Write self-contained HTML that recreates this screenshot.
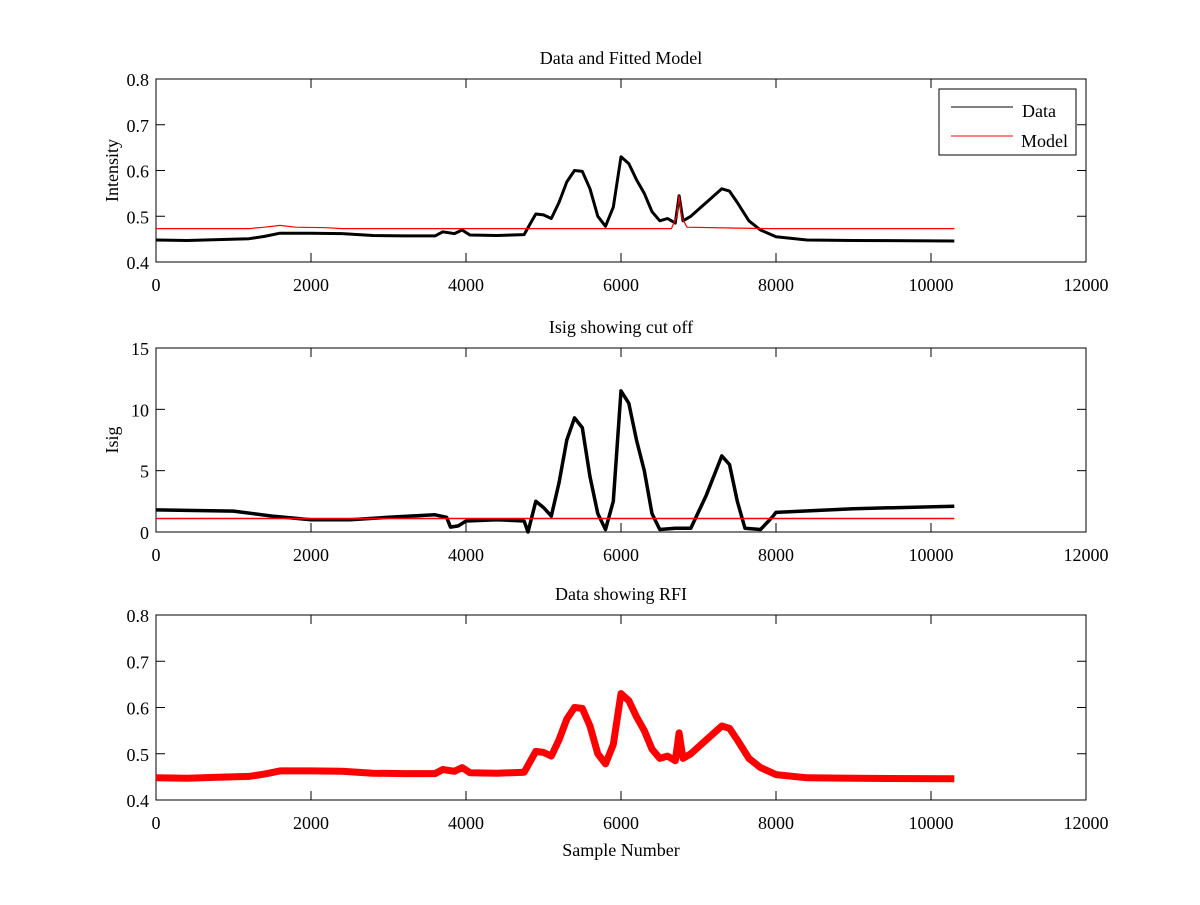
<!DOCTYPE html>
<html><head><meta charset="utf-8"><style>
body{margin:0;background:#fff;}
svg text{font-family:"Liberation Serif",serif;font-size:18px;fill:#000;}
</style></head><body>
<svg id="fig" width="1200" height="900" viewBox="0 0 1200 900" xmlns="http://www.w3.org/2000/svg">
<rect width="1200" height="900" fill="#fff"/>
</svg>
<script>
const sampleX=[0,400,800,1200,1400,1600,2000,2400,2800,3200,3600,3700,3850,3950,4050,4400,4750,4850,4900,5000,5100,5200,5300,5400,5500,5600,5700,5800,5900,6000,6100,6200,6300,6400,6500,6600,6700,6750,6800,6900,7100,7300,7400,7500,7650,7800,8000,8400,9000,10300];
const intensity=[0.448,0.447,0.449,0.451,0.456,0.463,0.463,0.462,0.458,0.457,0.457,0.466,0.462,0.470,0.459,0.458,0.460,0.490,0.505,0.503,0.495,0.530,0.575,0.600,0.598,0.560,0.500,0.478,0.520,0.630,0.615,0.580,0.550,0.510,0.490,0.495,0.485,0.545,0.490,0.500,0.530,0.560,0.555,0.530,0.490,0.470,0.455,0.448,0.447,0.446];
const modelX=[0,1200,1400,1600,1800,2200,2400,6650,6720,6750,6780,6850,7500,7900,10300];
const modelY=[0.473,0.473,0.476,0.480,0.476,0.475,0.473,0.473,0.500,0.545,0.500,0.476,0.474,0.473,0.473];
const isigX=[0,1000,1500,2000,2500,3000,3600,3750,3800,3900,4000,4400,4750,4800,4900,5000,5100,5200,5300,5400,5500,5600,5700,5800,5900,6000,6100,6200,6300,6400,6500,6700,6900,7100,7300,7400,7500,7600,7800,7950,8000,9000,10300];
const isig=[1.8,1.7,1.3,1.0,1.0,1.2,1.4,1.2,0.4,0.5,0.9,1.0,0.9,0.0,2.5,2.0,1.3,4.0,7.5,9.3,8.5,4.5,1.5,0.2,2.5,11.5,10.5,7.5,5.0,1.5,0.2,0.3,0.3,3.0,6.2,5.5,2.5,0.3,0.2,1.2,1.6,1.9,2.1];
const cutoff=[1.1,1.1];
const cutoffX=[0,10300];
const xTicks=[0,2000,4000,6000,8000,10000,12000];
const yTicks1=[0.4,0.5,0.6,0.7,0.8];
const yTicks2=[0,5,10,15];

const NS="http://www.w3.org/2000/svg";
const svg=document.getElementById('fig');
const X0=156,X1=1086;
function mk(tag,attrs,parent){const e=document.createElementNS(NS,tag);for(const k in attrs)e.setAttribute(k,attrs[k]);(parent||svg).appendChild(e);return e;}
function sx(v){return X0+(v-0)/(12000)*(X1-X0);}

const panels=[
 {top:79,bot:262,ymin:0.4,ymax:0.8,ticks:yTicks1,title:"Data and Fitted Model",ylabel:"Intensity",name:"data-model"},
 {top:348,bot:532,ymin:0,ymax:15,ticks:yTicks2,title:"Isig showing cut off",ylabel:"Isig",name:"isig"},
 {top:615,bot:800,ymin:0.4,ymax:0.8,ticks:yTicks1,title:"Data showing RFI",ylabel:"",name:"rfi"}
];
panels.forEach((p,i)=>{
 const g=mk('g',{});
 
 
 const sy=v=>p.bot-(v-p.ymin)/(p.ymax-p.ymin)*(p.bot-p.top);
 p.sy=sy;
 const fr=mk('rect',{x:X0,y:p.top,width:X1-X0,height:p.bot-p.top,fill:'none',stroke:'#000','stroke-width':1},g);
 
 
 xTicks.forEach(t=>{
  const x=sx(t);
  mk('line',{x1:x,x2:x,y1:p.bot,y2:p.bot-9,stroke:'#000'},g);
  mk('line',{x1:x,x2:x,y1:p.top,y2:p.top+9,stroke:'#000'},g);
  const tx=mk('text',{x:x,y:p.bot+29,'text-anchor':'middle'},g);
  tx.textContent=t;
  
  
 });
 p.ticks.forEach(t=>{
  const y=sy(t);
  mk('line',{x1:X0,x2:X0+9,y1:y,y2:y,stroke:'#000'},g);
  mk('line',{x1:X1,x2:X1-9,y1:y,y2:y,stroke:'#000'},g);
  const tx=mk('text',{x:X0-7,y:y+7,'text-anchor':'end'},g);
  tx.textContent=t;
  
  
 });
 const ti=mk('text',{x:(X0+X1)/2,y:p.top-15,'text-anchor':'middle'},g);
 ti.textContent=p.title;
 
 
 if(p.ylabel){
  const cy=(p.top+p.bot)/2;
  const yl=mk('text',{x:118,y:cy,'text-anchor':'middle',transform:`rotate(-90 118 ${cy})`},g);
  yl.textContent=p.ylabel;
  
  
 }
});
function line(xs,ys,p,color,w,name){
 const pts=xs.map((x,i)=>sx(x).toFixed(1)+','+p.sy(ys[i]).toFixed(1)).join(' ');
 const l=mk('polyline',{points:pts,fill:'none',stroke:color,'stroke-width':w,'stroke-linejoin':'round'});
 
 
}
line(sampleX,intensity,panels[0],'#000',3,'data-line');
line(modelX,modelY,panels[0],'#f00',1.2,'model-line');
line(isigX,isig,panels[1],'#000',3.5,'isig-line');
line(cutoffX,cutoff,panels[1],'#f00',1.5,'cutoff-line');
line(sampleX,intensity,panels[2],'#f00',7,'rfi-data-line');

const xl=mk('text',{x:(X0+X1)/2,y:856,'text-anchor':'middle'});
xl.textContent='Sample Number';



const lg=mk('g',{});


mk('rect',{x:939,y:89,width:137,height:66,fill:'#fff',stroke:'#000'},lg);
mk('line',{x1:951,x2:1013,y1:107,y2:107,stroke:'#000'},lg);
mk('line',{x1:951,x2:1013,y1:136,y2:136,stroke:'#f00'},lg);
const t1=mk('text',{x:1022,y:117},lg);t1.textContent='Data';


const t2=mk('text',{x:1021,y:147},lg);t2.textContent='Model';


</script>
</body></html>
